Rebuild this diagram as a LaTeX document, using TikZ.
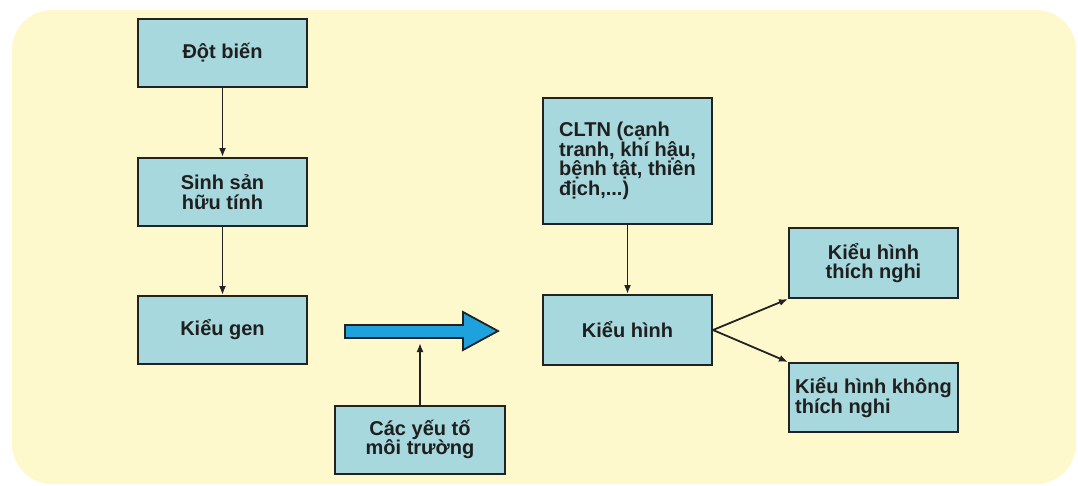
\documentclass[tikz,border=0pt]{standalone}
\usepackage{fontspec}
\setmainfont{Liberation Sans}
\usetikzlibrary{arrows.meta}
\definecolor{bgyellow}{HTML}{FEF9CD}
\definecolor{boxfill}{HTML}{A6D8DD}
\definecolor{boxline}{HTML}{222222}
\definecolor{bigblue}{HTML}{1EA2DD}
\tikzset{
  box/.style={draw=boxline, line width=2pt, fill=boxfill, minimum width=169pt, inner sep=0pt, align=center, text=black!88, font=\fontsize{20}{19.5}\selectfont\bfseries},
  conn/.style={draw=boxline, line width=1.8pt, -{Latex[length=9pt,width=7pt]}}
}
\begin{document}
\begin{tikzpicture}[x=1pt,y=-1pt]
\useasboundingbox (0,0) rectangle (1078,485);
\fill[bgyellow, rounded corners=40pt] (12,10) rectangle (1076,484);

\node[box, minimum height=68pt] (db) at (222.5,53) {Đột biến};
\node[box, minimum height=68pt] (ss) at (222.5,192) {Sinh sản\\hữu tính};
\node[box, minimum height=68pt] (kg) at (222.5,330) {Kiểu gen};
\node[box, minimum width=170pt, minimum height=68pt] (cy) at (420,439.5) {Các yếu tố\\môi trường};
\node[box, minimum height=126pt, align=left] (cltn) at (627.5,161) {CLTN (cạnh\\tranh, khí hậu,\\bệnh tật, thiên\\địch,...)};
\node[box, minimum height=70pt] (kh) at (627.5,330) {Kiểu hình};
\node[box, minimum height=70pt] (tn) at (873.5,263) {Kiểu hình\\thích nghi};
\node[box, minimum height=69pt, align=left] (ktn) at (873.5,397.5) {Kiểu hình không\\thích nghi};

\draw[conn] (db) -- (ss);
\draw[conn] (ss) -- (kg);
\draw[conn] (cltn) -- (kh);
\draw[conn] (kh.east) -- (tn.south west);
\draw[conn] (kh.east) -- (ktn.north west);

\coordinate (ba) at (420,343);
\draw[fill=bigblue, draw=boxline, line width=1.8pt, line join=miter]
  (345,325) -- (463,325) -- (463,312) -- (498,331) -- (463,350) -- (463,338) -- (345,338) -- cycle;
\draw[conn] (cy) -- (ba);
\end{tikzpicture}
\end{document}
